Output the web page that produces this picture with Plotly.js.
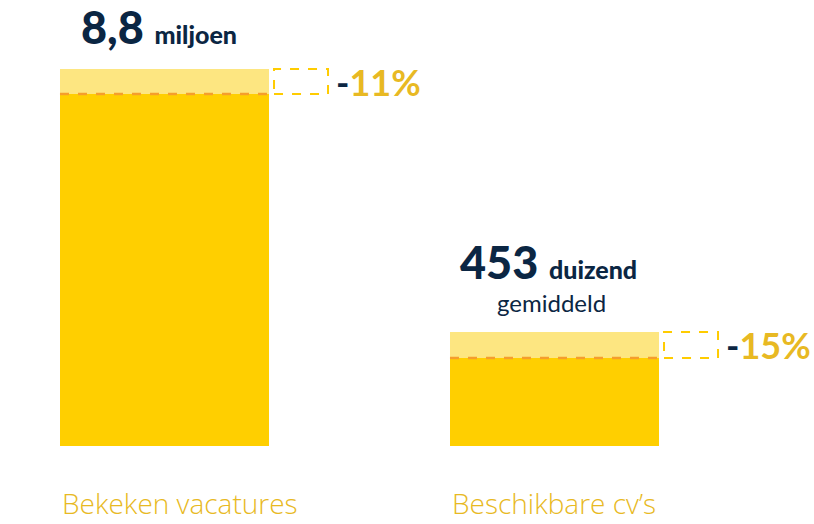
<!DOCTYPE html>
<html>
<head>
<meta charset="utf-8">
<script src="https://cdn.plot.ly/plotly-3.0.1.min.js"></script>
<style>
  html, body { margin: 0; padding: 0; background: #fff; }
  #chart { width: 814px; height: 524px; }
</style>
</head>
<body>
<div id="chart"></div>
<script>
// bars are not drawn to scale in the original, so heights are visual units read off the picture
const categories = ["Bekeken vacatures", "Beschikbare cv\u2019s"];
const previous_height = [377, 114];
const current_height = [352, 88];
const value_labels = ["8,8", "453"];
const unit_labels = ["miljoen", "duizend"];
const sub_labels = ["", "gemiddeld"];
const change_labels = ["11%", "15%"];

const NAVY = "#0b2643";
const GOLD = "#e8b923";
const BAR_WIDTH = 0.536;
const px = 1 / 390; // one pixel in x data units

const x_vals = categories.map((c, i) => i);

const current_trace = {
    x: x_vals,
    y: current_height,
    type: "bar",
    width: BAR_WIDTH,
    marker: { color: "#ffcf00" },
    hoverinfo: "skip",
};

const drop_trace = {
    x: x_vals,
    y: previous_height.map((p, i) => p - current_height[i]),
    base: current_height,
    type: "bar",
    width: BAR_WIDTH,
    marker: { color: "#fde681" },
    hoverinfo: "skip",
};

const shapes = [];
const annotations = [];

x_vals.forEach((x, i) => {
    const left = x - BAR_WIDTH / 2;
    const right = x + BAR_WIDTH / 2;

    // dashed line where the current value ends
    shapes.push({
        type: "line", xref: "x", yref: "y",
        x0: left, x1: right, y0: current_height[i], y1: current_height[i],
        line: { color: "#f59e2c", width: 2.5, dash: "dash" },
    });

    // dashed box showing the drop next to the bar
    shapes.push({
        type: "rect", xref: "x", yref: "y",
        x0: right + 5 * px, x1: right + 59 * px,
        y0: current_height[i], y1: previous_height[i],
        line: { color: "#ffcc00", width: 2, dash: "dash" },
        fillcolor: "rgba(0,0,0,0)",
    });

    annotations.push({
        x: right + 59 * px, y: (current_height[i] + previous_height[i]) / 2,
        xref: "x", yref: "y", xanchor: "left", yanchor: "middle", xshift: 7,
        showarrow: false, borderpad: 0,
        text: `<span style="color:${NAVY}">-</span>${change_labels[i]}`,
        font: { family: "Lato", size: 36, color: GOLD, weight: "bold" },
    });

    // value above the bar
    const has_sub = sub_labels[i] !== "";
    annotations.push({
        x: x, y: previous_height[i],
        xref: "x", yref: "y", xanchor: "center", yanchor: "bottom",
        xshift: -6, yshift: has_sub ? 42 : 14,
        showarrow: false, borderpad: 0,
        text: `${value_labels[i]} <span style="font-size:25px">${unit_labels[i]}</span>`,
        font: { family: "Lato", size: 45, color: NAVY, weight: 900 },
    });

    if (has_sub) {
        annotations.push({
            x: x, y: previous_height[i],
            xref: "x", yref: "y", xanchor: "center", yanchor: "bottom",
            xshift: -3, yshift: 14,
            showarrow: false, borderpad: 0,
            text: sub_labels[i],
            font: { family: "Lato", size: 24, color: NAVY },
        });
    }

    // category label under the bar
    annotations.push({
        x: left, y: 0,
        xref: "x", yref: "y", xanchor: "left", yanchor: "middle",
        xshift: 1, yshift: -57,
        showarrow: false, borderpad: 0,
        text: categories[i],
        font: { family: "Open Sans", size: 28, color: GOLD, weight: 300 },
    });
});

const layout = {
    width: 814,
    height: 524,
    margin: { l: 0, r: 0, t: 0, b: 78 },
    paper_bgcolor: "#ffffff",
    plot_bgcolor: "#ffffff",
    barmode: "stack",
    bargap: 0,
    showlegend: false,
    xaxis: { range: [-164.5 * px, 1 + 259.5 * px], visible: false, fixedrange: true },
    yaxis: { range: [0, 446], visible: false, fixedrange: true },
    shapes: shapes,
    annotations: annotations,
};

Plotly.newPlot("chart", [current_trace, drop_trace], layout, { displayModeBar: false, staticPlot: true });
</script>
</body>
</html>
